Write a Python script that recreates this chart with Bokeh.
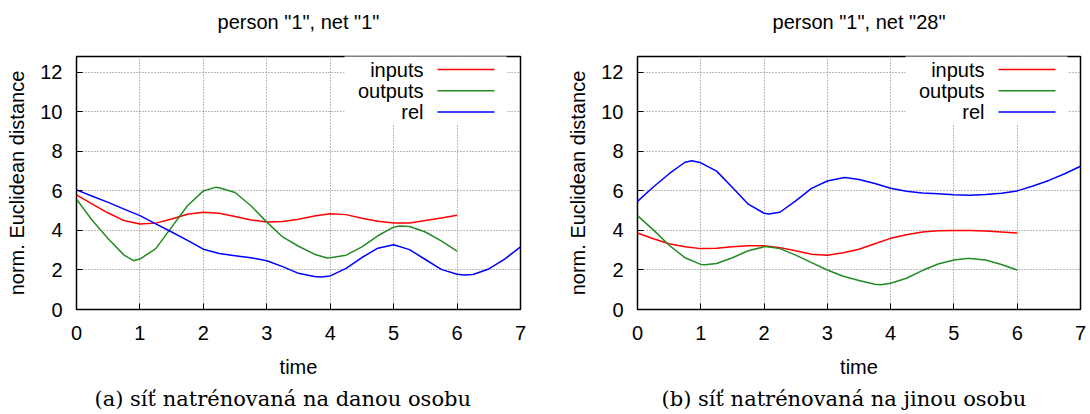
from bokeh.plotting import figure
from bokeh.layouts import row
from bokeh.models import Label, BoxAnnotation, Arrow, Range1d, FixedTicker, Title
from bokeh.embed import file_html
from bokeh.resources import INLINE

# ---------------- data ----------------
# panel (a): person "1", net "1"
t_inputs_a = [0, 0.25, 0.5, 0.75, 1, 1.25, 1.5, 1.75, 2, 2.25, 2.5, 2.75, 3, 3.25,
              3.5, 3.75, 4, 4.25, 4.5, 4.75, 5, 5.25, 5.5, 5.75, 6]
inputs_a = [5.80, 5.33, 4.88, 4.50, 4.33, 4.37, 4.58, 4.82, 4.92, 4.87, 4.70, 4.53,
            4.43, 4.45, 4.57, 4.73, 4.85, 4.80, 4.62, 4.47, 4.38, 4.38, 4.50, 4.63, 4.77]
t_outputs_a = [0, 0.25, 0.5, 0.75, 0.9, 1, 1.25, 1.5, 1.75, 2, 2.19, 2.25, 2.5, 2.75, 3,
               3.25, 3.5, 3.75, 3.95, 4, 4.25, 4.5, 4.75, 5, 5.1, 5.25, 5.5, 5.75, 6]
outputs_a = [5.58, 4.50, 3.58, 2.75, 2.47, 2.55, 3.08, 4.17, 5.25, 6.00, 6.18, 6.16, 5.92,
             5.25, 4.42, 3.67, 3.20, 2.80, 2.61, 2.62, 2.75, 3.17, 3.73, 4.17, 4.23, 4.20,
             3.92, 3.47, 2.95]
t_rel_a = [0, 0.25, 0.5, 0.75, 1, 1.25, 1.5, 1.75, 2, 2.25, 2.5, 2.75, 3, 3.25,
           3.5, 3.75, 3.85, 4, 4.25, 4.5, 4.75, 5, 5.25, 5.5, 5.75, 6, 6.11, 6.25,
           6.5, 6.75, 7]
rel_a = [6.05, 5.73, 5.42, 5.08, 4.75, 4.33, 3.92, 3.50, 3.05, 2.83, 2.72, 2.62,
         2.47, 2.17, 1.83, 1.67, 1.65, 1.70, 2.08, 2.63, 3.10, 3.28, 3.03, 2.53, 2.03,
         1.78, 1.75, 1.77, 2.05, 2.55, 3.17]

# panel (b): person "1", net "28"
t_inputs_b = [0, 0.25, 0.5, 0.75, 1, 1.25, 1.5, 1.75, 2, 2.25, 2.5, 2.75, 3, 3.25,
              3.5, 3.75, 4, 4.25, 4.5, 4.75, 5, 5.25, 5.5, 5.75, 6]
inputs_b = [3.87, 3.58, 3.33, 3.17, 3.08, 3.10, 3.17, 3.23, 3.23, 3.13, 2.97, 2.80,
            2.75, 2.87, 3.05, 3.33, 3.60, 3.78, 3.92, 3.98, 4.00, 4.00, 3.97, 3.92, 3.87]
t_outputs_b = [0, 0.25, 0.5, 0.75, 1, 1.07, 1.25, 1.5, 1.75, 2, 2.05, 2.25, 2.5, 2.75, 3,
               3.25, 3.5, 3.75, 3.84, 4, 4.25, 4.5, 4.75, 5, 5.2, 5.25, 5.5, 5.75, 6]
outputs_b = [4.75, 4.03, 3.25, 2.62, 2.28, 2.26, 2.33, 2.62, 2.97, 3.17, 3.18, 3.08, 2.75,
             2.37, 2.00, 1.68, 1.47, 1.28, 1.25, 1.33, 1.58, 1.97, 2.30, 2.50, 2.58, 2.58,
             2.50, 2.28, 2.00]
t_rel_b = [0, 0.25, 0.5, 0.75, 0.86, 1, 1.25, 1.5, 1.75, 2, 2.07, 2.25, 2.5, 2.75, 3,
           3.25, 3.28, 3.5, 3.75, 4, 4.25, 4.5, 4.75, 5, 5.25, 5.5, 5.75, 6, 6.25, 6.5,
           6.75, 7]
rel_b = [5.47, 6.20, 6.87, 7.45, 7.53, 7.42, 7.00, 6.17, 5.33, 4.87, 4.83, 4.92, 5.50,
         6.13, 6.50, 6.67, 6.68, 6.58, 6.37, 6.13, 5.98, 5.90, 5.85, 5.80, 5.78, 5.82,
         5.88, 6.00, 6.25, 6.53, 6.87, 7.25]

SERIES = ["inputs", "outputs", "rel"]
COLORS = ["#ff0000", "#238b23", "#0000ff"]
X_TICKS = [0, 1, 2, 3, 4, 5, 6, 7]
Y_TICKS = [0, 2, 4, 6, 8, 10, 12]
TITLES = ['person "1", net "1"', 'person "1", net "28"']
CAPTIONS = ["(a) síť natrénovaná na danou osobu", "(b) síť natrénovaná na jinou osobu"]

SANS = "Liberation Sans"
SERIF = "DejaVu Serif"
FS = "20px"


def make_panel(title, caption, cap_offset, data, width, mbl, mbr):
    p = figure(width=width, height=414, x_range=Range1d(0, 7), y_range=Range1d(0, 12.8),
               output_backend="svg", toolbar_location=None,
               min_border_left=mbl, min_border_right=mbr,
               min_border_top=54, min_border_bottom=104)
    p.background_fill_color = "white"
    p.border_fill_color = "white"
    p.outline_line_color = "black"
    p.outline_line_width = 1.5
    p.outline_line_alpha = 1.0

    # thin spacer next to the frame, then the real title above it
    p.add_layout(Title(text=" ", text_font_size="1px", standoff=9), "above")
    p.add_layout(Title(text=title, align="center", vertical_align="top", standoff=20,
                       text_font=SANS, text_font_size=FS, text_font_style="normal",
                       text_color="black"), "above")

    p.xaxis.ticker = FixedTicker(ticks=X_TICKS)
    p.yaxis.ticker = FixedTicker(ticks=Y_TICKS)
    p.xaxis.axis_label = "time"
    p.yaxis.axis_label = "norm. Euclidean distance"
    for ax in (p.xaxis, p.yaxis):
        ax.axis_line_color = None
        ax.major_tick_in = 6
        ax.major_tick_out = 0
        ax.major_tick_line_color = "black"
        ax.minor_tick_line_color = None
        ax.major_label_text_font = SANS
        ax.major_label_text_font_size = FS
        ax.major_label_text_color = "black"
        ax.axis_label_text_font = SANS
        ax.axis_label_text_font_size = FS
        ax.axis_label_text_font_style = "normal"
        ax.axis_label_text_color = "black"
    p.xaxis.major_label_standoff = 16
    p.xaxis.axis_label_standoff = 13
    p.yaxis.major_label_standoff = 14
    p.yaxis.axis_label_standoff = 9

    p.grid.grid_line_color = "#777777"
    p.grid.grid_line_dash = "1 2"
    p.grid.grid_line_width = 1

    # opaque key area (hides the grid behind the key)
    p.add_layout(BoxAnnotation(left=268, right=430, bottom=186, top=256,
                               left_units="screen", right_units="screen",
                               bottom_units="screen", top_units="screen",
                               fill_color="white", fill_alpha=1.0, line_color=None,
                               level="underlay"))

    for i, (name, color) in enumerate(zip(SERIES, COLORS)):
        ts, ys = data[i]
        p.line(ts, ys, line_color=color, line_width=1.5, line_join="round")
        row_y = 240 - i * 21.3
        p.add_layout(Label(x=347, y=row_y, x_units="screen", y_units="screen",
                           text=name, text_align="right", text_baseline="middle",
                           text_font=SANS, text_font_size=FS, text_color="black"))
        p.add_layout(Arrow(start=None, end=None, x_start=361, x_end=418,
                           y_start=row_y, y_end=row_y,
                           start_units="screen", end_units="screen",
                           line_color=color, line_width=1.5))

    p.add_layout(Title(text=caption, align="left", offset=cap_offset, standoff=8,
                       text_font=SERIF, text_font_size="21px", text_font_style="normal",
                       text_color="black"), "below")
    return p


p1 = make_panel(TITLES[0], CAPTIONS[0], 18,
                [(t_inputs_a, inputs_a), (t_outputs_a, outputs_a), (t_rel_a, rel_a)],
                548, 76, 28)
p2 = make_panel(TITLES[1], CAPTIONS[1], 24,
                [(t_inputs_b, inputs_b), (t_outputs_b, outputs_b), (t_rel_b, rel_b)],
                542, 89, 10)

layout = row(p1, p2)
open("out.html", "w").write(file_html(layout, INLINE))
